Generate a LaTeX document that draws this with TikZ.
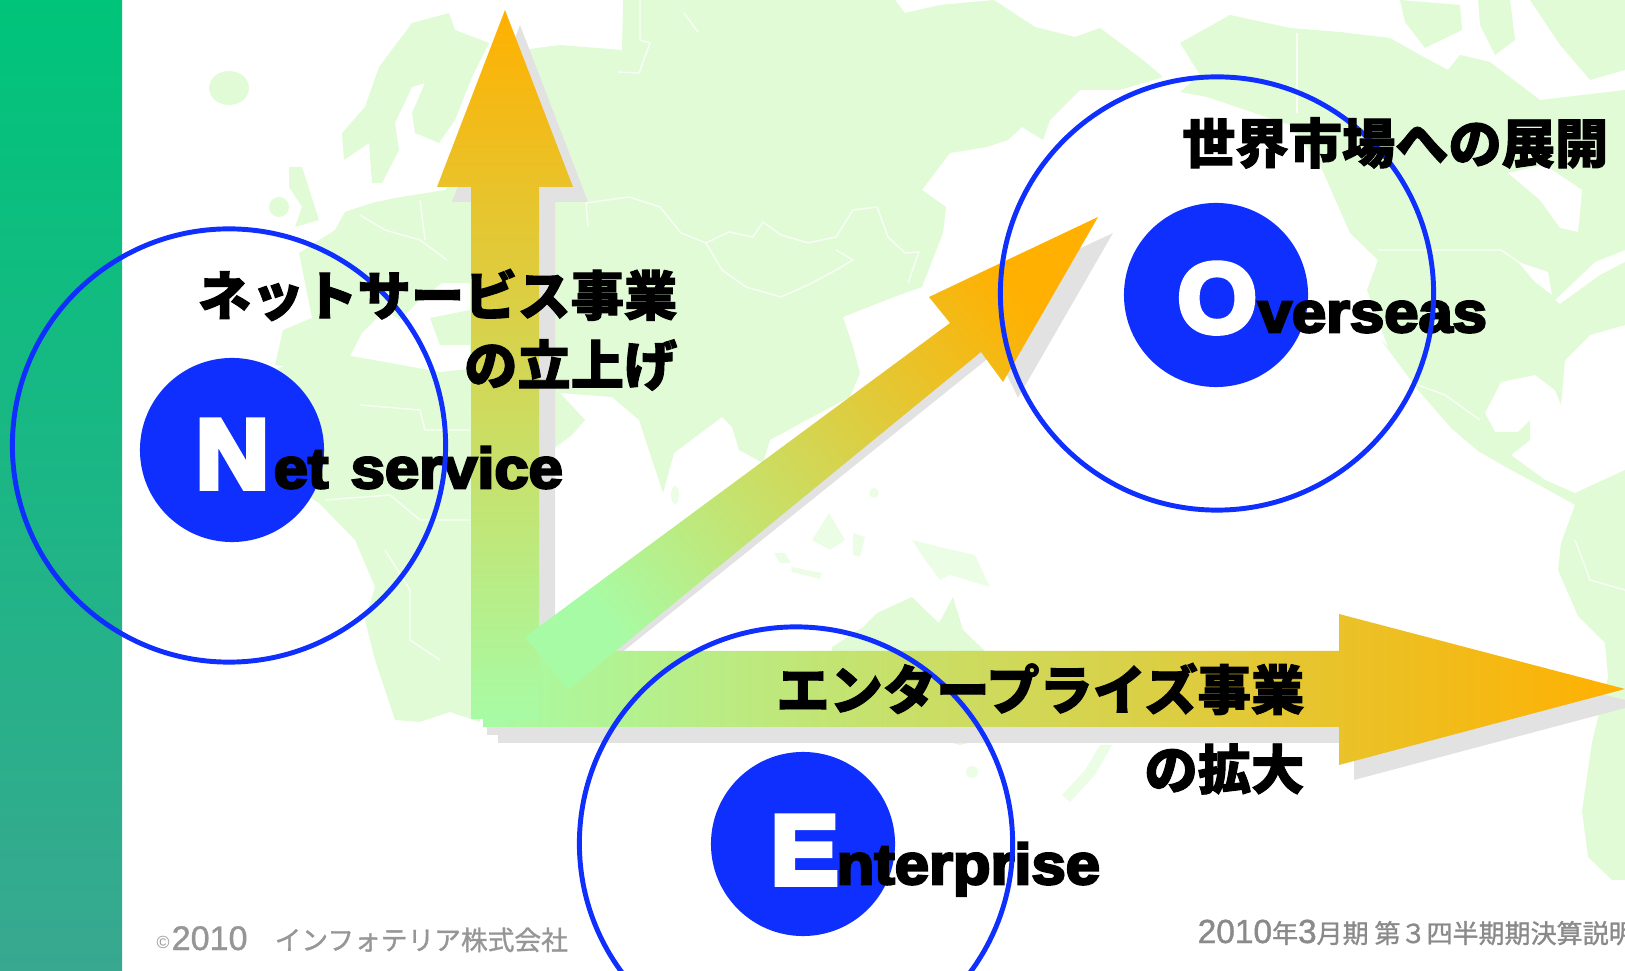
\documentclass[tikz,border=0pt]{standalone}
\usepackage{fontspec}
\usepackage{xcolor}
\setmainfont{Liberation Sans}
\newfontfamily\cjkheavy[BoldFeatures={FakeBold=1.8}]{Noto Sans CJK JP}
\newfontfamily\cjkfoot[FakeBold=1.2]{Noto Sans CJK JP}
\newfontfamily\latinfoot[FakeBold=1.2]{Liberation Sans}
\newfontfamily\latinbig[BoldFeatures={FakeBold=6,FakeStretch=1.03}]{Liberation Sans}
\newfontfamily\latinheavy[BoldFeatures={FakeBold=4.5,FakeStretch=1.08}]{Liberation Sans}
\definecolor{ringblue}{RGB}{15,47,255}
\definecolor{mapgreen}{RGB}{224,251,214}
\definecolor{shadowgrey}{RGB}{226,226,226}
\definecolor{footgrey}{RGB}{150,150,150}
\definecolor{arrowlow}{RGB}{168,251,165}
\definecolor{arrowhigh}{RGB}{255,176,0}
\usetikzlibrary{calc,positioning}
\tikzset{
    land/.style={fill=mapgreen, draw=none},
    faintland/.style={fill=mapgreen, fill opacity=0.6, draw=none},
    sea/.style={fill=white, draw=none},
    border/.style={draw=white, opacity=0.8, line width=0.4pt},
    shadow/.style={fill=shadowgrey, draw=none},
    ring/.style={circle, draw=ringblue, line width=1.4pt, minimum size=4.33cm, inner sep=0pt},
    disc/.style={circle, fill=ringblue, minimum size=1.84cm, inner sep=0pt},
    bigletter/.style={text=white, inner sep=0pt, anchor=base west, font=\latinbig\bfseries\fontsize{28}{28}\selectfont},
    smallword/.style={text=black, inner sep=0pt, anchor=base west, font=\latinheavy\bfseries\fontsize{16.2}{16.2}\selectfont},
    headline/.style={text=black, inner sep=0pt, anchor=east, font=\cjkheavy\bfseries\fontsize{15.15}{15.15}\selectfont},
    footer/.style={text=footgrey, inner sep=0pt, anchor=base west},
}
\begin{document}
\begin{tikzpicture}[x=0.01cm,y=-0.01cm]
    \useasboundingbox (0,0) rectangle (1625,971);
    \clip (0,0) rectangle (1625,971);
    % world map
    \fill[land] (229,88) ellipse (20 and 17);
    \fill[land] (344,160) -- (342,133) -- (365,107) -- (379,67) -- (412,23) -- (449,13) -- (455,30)
        -- (489,43) -- (472,77) -- (455,120) -- (439,143) -- (415,133) -- (412,113) -- (425,83)
        -- (412,87) -- (395,123) -- (399,150) -- (382,183) -- (372,183) -- (369,143) -- cycle;
    \fill[land] (289,167) -- (302,167) -- (319,220) -- (295,227) -- (302,207) -- (289,187) -- cycle;
    \fill[land] (279,207) circle (10);
    \fill[land] (299,253) -- (335,230) -- (345,212) -- (372,203) -- (395,198) -- (445,190) -- (470,165)
        -- (490,140) -- (505,70) -- (522,50) -- (560,45) -- (622,50) -- (623,0) -- (895,0) -- (905,13)
        -- (940,5) -- (994,0) -- (1035,27) -- (1075,37) -- (1100,28) -- (1143,60) -- (1163,77)
        -- (1120,90) -- (1080,90) -- (1050,120) -- (1043,140) -- (1022,127) -- (1008,140) -- (987,147)
        -- (950,153) -- (922,190) -- (946,207) -- (943,233) -- (922,287) -- (894,297) -- (843,317)
        -- (853,347) -- (860,373) -- (850,397) -- (801,423) -- (770,440) -- (763,463) -- (739,450)
        -- (732,427) -- (722,417) -- (674,453) -- (663,493) -- (639,420) -- (612,397) -- (560,393)
        -- (585,420) -- (572,435) -- (545,455) -- (490,470) -- (470,380) -- (470,345) -- (440,345)
        -- (430,318) -- (470,310) -- (470,283) -- (442,283) -- (420,300) -- (400,320) -- (385,310)
        -- (362,333) -- (340,375) -- (275,365) -- (283,330) -- (312,318) -- cycle;
    \fill[land] (269,372) -- (305,358) -- (345,355) -- (385,362) -- (440,372) -- (480,368) -- (480,722)
        -- (450,712) -- (420,722) -- (395,720) -- (375,660) -- (365,620) -- (375,587) -- (355,540)
        -- (319,503) -- (280,480) -- (250,430) -- cycle;
    \fill[land] (832,647) -- (863,627) -- (877,613) -- (912,597) -- (922,607) -- (939,623) -- (953,597)
        -- (963,630) -- (984,650) -- (1015,690) -- (1000,735) -- (960,745) -- (900,730) -- (850,740)
        -- (825,720) -- cycle;
    \fill[faintland] (972,772) circle (6);
    \fill[faintland] (1112,745) -- (1095,775) -- (1070,802) -- (1062,795) -- (1085,770) -- (1100,745) -- cycle;
    \fill[faintland] (812,540) -- (829,513) -- (845,540) -- (830,550) -- cycle;
    \fill[faintland] (853,533) -- (865,537) -- (860,557) -- (853,555) -- cycle;
    \fill[faintland] (774,553) -- (785,553) -- (791,563) -- (780,563) -- cycle;
    \fill[faintland] (791,567) -- (822,573) -- (820,579) -- (792,572) -- cycle;
    \fill[faintland] (912,540) -- (940,547) -- (975,555) -- (990,587) -- (950,575) -- (940,580) -- (925,560) -- cycle;
    \fill[faintland] (874,493) circle (5);
    \fill[faintland] (675,495) ellipse (4 and 9);
    % America
    \fill[land] (1180,43) -- (1230,15) -- (1290,28) -- (1340,32) -- (1390,38) -- (1420,55) -- (1448,70)
        -- (1460,55) -- (1490,62) -- (1540,100) -- (1625,90) -- (1625,250) -- (1595,262) -- (1555,300)
        -- (1560,304) -- (1600,275) -- (1625,262) -- (1625,325) -- (1590,335) -- (1565,360) -- (1561,405)
        -- (1555,390) -- (1535,375) -- (1501,382) -- (1485,413) -- (1495,432) -- (1518,432) -- (1530,420)
        -- (1530,440) -- (1511,455) -- (1545,480) -- (1575,493) -- (1625,470) -- (1625,880) -- (1612,880)
        -- (1588,857) -- (1582,811) -- (1592,742) -- (1608,677) -- (1605,643) -- (1578,616) -- (1558,570)
        -- (1561,543) -- (1575,505) -- (1541,486) -- (1511,470) -- (1478,451) -- (1451,428) -- (1418,390)
        -- (1381,340) -- (1388,347) -- (1367,290) -- (1378,260) -- (1350,233) -- (1320,165) -- (1290,125)
        -- (1207,97) -- (1180,92) -- (1200,75) -- cycle;
    \fill[land] (1400,0) -- (1460,5) -- (1462,30) -- (1425,48) -- (1405,22) -- cycle;
    \fill[land] (1478,0) -- (1510,0) -- (1515,40) -- (1495,55) -- (1480,25) -- cycle;
    \fill[land] (1530,0) -- (1625,0) -- (1625,70) -- (1590,80) -- (1560,45) -- cycle;
    \fill[sea] (1508,173) -- (1545,165) -- (1582,190) -- (1578,232) -- (1560,228) -- (1540,200) -- cycle;
    \fill[sea] (1518,262) -- (1548,272) -- (1552,295) -- (1535,282) -- cycle;
    \draw[border] (588,227) -- (586,203) -- (629,197) -- (660,207) -- (681,233) -- (706,243) -- (729,232)
        -- (753,237) -- (763,222) -- (781,235) -- (808,243) -- (836,237) -- (853,210) -- (877,207)
        -- (888,237) -- (905,253) -- (919,252) -- (908,283);
    \draw[border] (706,243) -- (722,270) -- (746,287) -- (781,297) -- (812,283) -- (836,270) -- (853,260) -- (836,250);
    \draw[border] (640,0) -- (640,40) -- (650,43) -- (639,73) -- (618,72);
    \draw[border] (684,13) -- (698,32);
    \draw[border] (1378,250) -- (1501,250) -- (1530,270);
    \draw[border] (1297,33) -- (1297,113);
    \draw[border] (1418,385) -- (1445,395) -- (1480,420);
    \draw[border] (360,215) -- (385,230) -- (420,240) -- (447,260);
    \draw[border] (420,200) -- (425,240);
    \draw[border] (360,405) -- (420,410) -- (425,430) -- (470,430);
    \draw[border] (325,500) -- (390,495) -- (420,520) -- (470,520);
    \draw[border] (385,550) -- (410,590) -- (410,640) -- (440,660);
    \draw[border] (1575,540) -- (1590,580) -- (1625,590);
    % side bar
    \shade[bottom color={rgb,255:red,56;green,168;blue,144}, top color={rgb,255:red,0;green,196;blue,122}] (0,0) rectangle (122,971);
    % shadows
    \fill[shadow] (1113,233) -- (1018,398) -- (996,352) -- (605,666) -- (545,666) -- (540,652) -- (965,338) -- (944,312) -- cycle;
    \fill[shadow] (520,25) -- (588,202) -- (555,202) -- (555,735) -- (487,735) -- (487,202) -- (452,202) -- cycle;
    \fill[shadow] (1640,704) -- (1354,780) -- (1354,743) -- (498,743) -- (498,666) -- (1354,666) -- (1354,629) -- cycle;
    % arrows
    \shade[left color=arrowlow, right color=arrowhigh] (483,651) -- (1339,651) -- (1339,614) -- (1625,689)
        -- (1339,765) -- (1339,727) -- (483,727) -- cycle;
    \shade[bottom color=arrowlow, top color=arrowhigh] (471,719) -- (471,187) -- (437,187) -- (505,10)
        -- (573,187) -- (539,187) -- (539,719) -- cycle;
    \shade[bottom color=arrowlow, top color=arrowhigh, shading angle=-51] (525,637) -- (950,323) -- (929,297)
        -- (1098,217) -- (1003,382) -- (981,352) -- (568,690) -- cycle;
    % circles with their words
    \node[disc] (netdisc) at (232,450) {};
    \node[disc] (overseasdisc) at (1216,295) {};
    \node[disc] (enterprisedisc) at (803,844) {};
    \node[bigletter] (netletter) at (195,488) {N};
    \node[smallword] (netword) at (273,488) {et\hspace{1.5pt} service};
    \node[bigletter] (overseasletter) at (1177,332) {O};
    \node[smallword] (overseasword) at (1257,332) {verseas};
    \node[bigletter] (enterpriseletter) at (770,884) {E};
    \node[smallword] (enterpriseword) at (836,884) {nterprise};
    \node[ring] (netring) at (229,445.5) {};
    \node[ring] (overseasring) at (1217,293.5) {};
    \node[ring] (enterprisering) at (796,843.5) {};
    % headlines
    \node[headline] (netline) at (678,295) {ネットサービス事業};
    \node[headline] (netlinetwo) at (678,365) {の立上げ};
    \node[headline] (overseasline) at (1609,143) {世界市場への展開};
    \node[headline] (enterpriseline) at (1305,689) {エンタープライズ事業};
    \node[headline] (enterpriselinetwo) at (1305,769) {の拡大};
    % footers
    \node[footer, font=\fontsize{5}{5}\selectfont] (copysign) at (156,948) {©};
    \node[footer, font=\latinfoot\fontsize{9.7}{9.7}\selectfont] (copyyear) at (171,950) {2010};
    \node[footer, font=\cjkfoot\fontsize{7.6}{7.6}\selectfont] (copyname) at (274,950) {インフォテリア株式会社};
    \node[footer, font=\latinfoot\fontsize{9.5}{9.5}\selectfont, text=footgrey!92!black] (resultsline) at (1197,943)
        {2010{\cjkfoot\fontsize{7.4}{7.4}\selectfont 年}3{\cjkfoot\fontsize{7.4}{7.4}\selectfont 月期 第３四半期期決算説明}};
\end{tikzpicture}
\end{document}
